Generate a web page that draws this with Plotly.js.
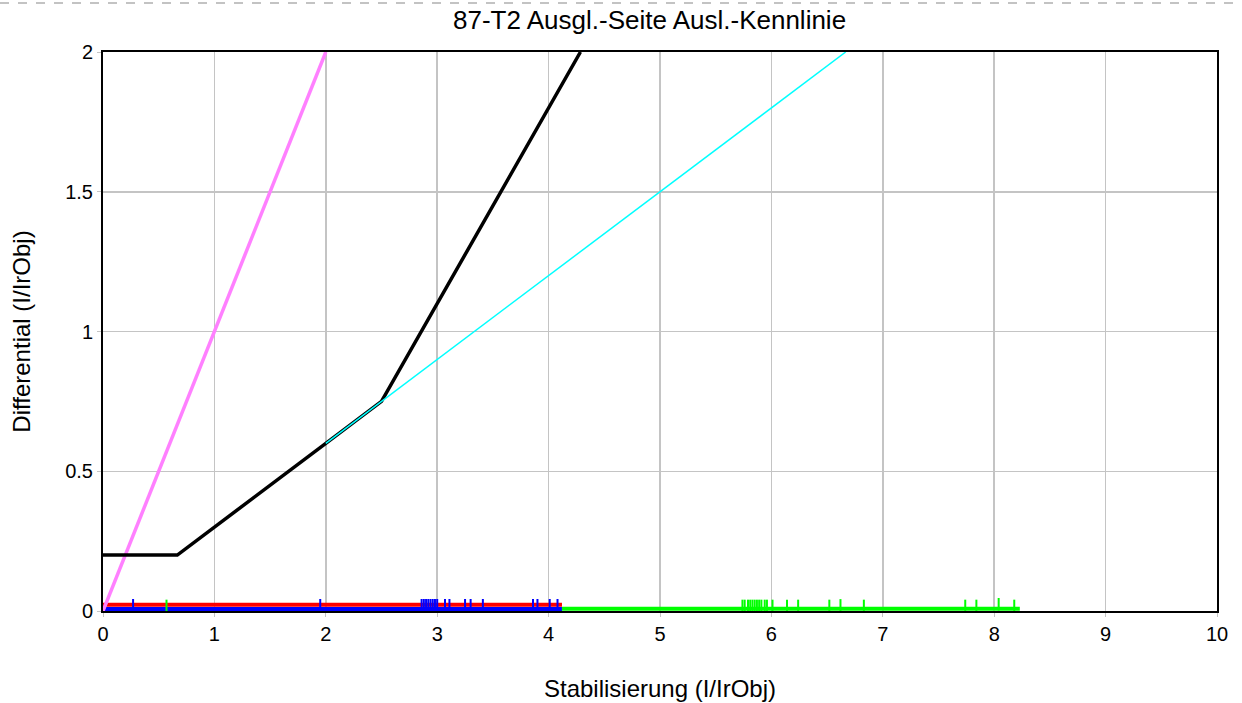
<!DOCTYPE html>
<html>
<head>
<meta charset="utf-8">
<script src="https://cdn.plot.ly/plotly-3.0.1.min.js"></script>
<style>
html,body{margin:0;padding:0;background:#fff;}
#chart{width:1242px;height:703px;}
</style>
</head>
<body>
<div id="chart"></div>
<script>
// ---- data ----
const magentaX = [0, 2];
const magentaY = [0, 2];

const blackX = [0, 0.667, 2, 2.5, 4.286];
const blackY = [0.2, 0.2, 0.6, 0.75, 2];

const cyanX = [2, 6.667];
const cyanY = [0.6, 2];

const cyanBaseX = [0, 2];
const cyanBaseY = [0, 0];

const redX = [0, 4.12];
const redY = [0.022, 0.022];

const blueX = [0, 4.12];
const blueY = [0.007, 0.007];
const blueSpikeX = [0.27, 1.95, 2.86, 2.88, 2.90, 2.92, 2.94, 2.96, 2.98, 3.0, 3.07, 3.11, 3.25, 3.30, 3.41, 3.86, 3.90, 4.01, 4.08];
const blueSpikeY = [0.018, 0.018, 0.018, 0.018, 0.018, 0.018, 0.018, 0.018, 0.018, 0.018, 0.018, 0.018, 0.018, 0.018, 0.018, 0.018, 0.018, 0.018, 0.018];

const greenX = [4.12, 8.23];
const greenY = [0.008, 0.008];
const greenSpikeX = [0.57, 5.74, 5.76, 5.79, 5.81, 5.83, 5.85, 5.87, 5.89, 5.91, 5.94, 5.96, 6.01, 6.14, 6.24, 6.52, 6.62, 6.83, 7.74, 7.84, 8.04, 8.18];
const greenSpikeY = [0.018, 0.018, 0.018, 0.018, 0.018, 0.018, 0.018, 0.018, 0.018, 0.018, 0.018, 0.018, 0.018, 0.018, 0.018, 0.018, 0.02, 0.018, 0.018, 0.018, 0.024, 0.018];

const titleText = '87-T2 Ausgl.-Seite Ausl.-Kennlinie';
const xTitle = 'Stabilisierung (I/IrObj)';
const yTitle = 'Differential (I/IrObj)';

const FONT = 'Liberation Sans, Arial, sans-serif';

const traces = [
  {x: cyanBaseX, y: cyanBaseY, mode: 'lines', line: {color: '#00ffff', width: 3}, hoverinfo: 'skip'},
  {x: redX, y: redY, mode: 'lines', line: {color: '#ff0000', width: 4}, hoverinfo: 'skip'},
  {x: blueX, y: blueY, mode: 'lines', line: {color: '#0000ff', width: 4}, hoverinfo: 'skip'},
  {x: blueSpikeX, y: blueSpikeY, mode: 'markers', marker: {symbol: 'line-ns-open', size: 10, color: '#0000ff', line: {color: '#0000ff', width: 2}}, hoverinfo: 'skip'},
  {x: greenX, y: greenY, mode: 'lines', line: {color: '#00ff00', width: 4}, hoverinfo: 'skip'},
  {x: greenSpikeX, y: greenSpikeY, mode: 'markers', marker: {symbol: 'line-ns-open', size: 9, color: '#00ff00', line: {color: '#00ff00', width: 2}}, hoverinfo: 'skip'},
  {x: magentaX, y: magentaY, mode: 'lines', line: {color: '#ff80ff', width: 3.5}, hoverinfo: 'skip'},
  {x: blackX, y: blackY, mode: 'lines', line: {color: '#000000', width: 3.5}, hoverinfo: 'skip'},
  {x: cyanX, y: cyanY, mode: 'lines', line: {color: '#00ffff', width: 1.5}, hoverinfo: 'skip'}
];

const layout = {
  width: 1242,
  height: 703,
  margin: {l: 103, r: 25, t: 52, b: 92},
  paper_bgcolor: '#ffffff',
  plot_bgcolor: '#ffffff',
  showlegend: false,
  font: {family: FONT, color: '#000000'},
  title: {
    text: titleText,
    font: {family: FONT, size: 26, color: '#000000'},
    xref: 'container', x: 0.523, xanchor: 'center',
    yref: 'container', y: 0.971, yanchor: 'middle'
  },
  xaxis: {
    range: [0, 10],
    dtick: 1,
    tick0: 0,
    showgrid: true,
    gridcolor: '#c4c4c4',
    gridwidth: 1.5,
    zeroline: false,
    showline: true,
    linecolor: '#000000',
    linewidth: 2,
    mirror: true,
    ticks: 'outside',
    ticklen: 4,
    tickcolor: '#c4c4c4',
    tickfont: {family: FONT, size: 20, color: '#000000'},
    title: {text: xTitle, font: {family: FONT, size: 24, color: '#000000'}, standoff: 36}
  },
  yaxis: {
    range: [0, 2],
    dtick: 0.5,
    tick0: 0,
    showgrid: true,
    gridcolor: '#c4c4c4',
    gridwidth: 1.5,
    zeroline: false,
    showline: true,
    linecolor: '#000000',
    linewidth: 2,
    mirror: true,
    ticks: 'outside',
    ticklen: 4,
    tickcolor: '#c4c4c4',
    tickfont: {family: FONT, size: 20, color: '#000000'},
    title: {text: yTitle, font: {family: FONT, size: 24, color: '#000000'}, standoff: 28}
  },
  shapes: [
    {type: 'line', xref: 'paper', yref: 'paper',
     x0: -103/1114, x1: 1139/1114, y0: 1 + 49/559, y1: 1 + 49/559,
     line: {color: '#b0b0b0', width: 1.5, dash: 'dash'}}
  ]
};

Plotly.newPlot('chart', traces, layout, {displayModeBar: false, staticPlot: true});
</script>
</body>
</html>
